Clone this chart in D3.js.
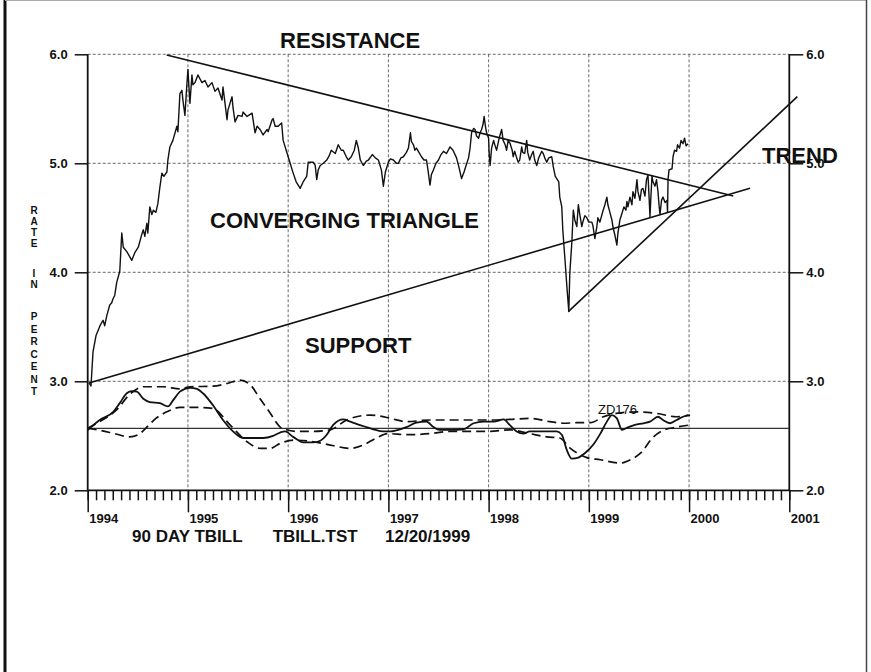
<!DOCTYPE html>
<html>
<head>
<meta charset="utf-8">
<script src="https://cdn.jsdelivr.net/npm/d3@7"></script>
<style>
  body { margin: 0; background: #fff; }
  svg { display: block; font-family: "Liberation Sans", Arial, Helvetica, sans-serif; }
</style>
</head>
<body>
<div id="chart-area"></div>
<script>
// 90 day T-bill rate, [decimal year, percent]
var tbill = [
  [1994.013,2.985],[1994.033,2.957],[1994.053,3.27],[1994.083,3.42],[1994.123,3.51],[1994.153,3.56],
  [1994.17,3.51],[1994.19,3.60],[1994.22,3.70],[1994.24,3.72],[1994.25,3.75],[1994.27,3.79],
  [1994.29,3.91],[1994.32,4.01],[1994.34,4.36],[1994.355,4.23],[1994.39,4.19],[1994.44,4.11],
  [1994.47,4.18],[1994.505,4.23],[1994.54,4.35],[1994.555,4.39],[1994.57,4.33],[1994.59,4.45],
  [1994.60,4.36],[1994.62,4.60],[1994.64,4.53],[1994.655,4.57],[1994.68,4.55],[1994.70,4.63],
  [1994.72,4.78],[1994.74,4.91],[1994.76,4.88],[1994.79,4.92],[1994.80,5.03],[1994.82,5.15],
  [1994.85,5.21],[1994.89,5.34],[1994.90,5.29],[1994.92,5.64],[1994.94,5.67],[1994.95,5.58],
  [1994.97,5.44],[1994.99,5.73],[1995.00,5.86],[1995.02,5.55],[1995.04,5.81],[1995.05,5.72],
  [1995.07,5.74],[1995.10,5.81],[1995.14,5.74],[1995.17,5.76],[1995.20,5.70],[1995.24,5.74],
  [1995.27,5.66],[1995.30,5.69],[1995.34,5.58],[1995.35,5.70],[1995.39,5.40],[1995.40,5.49],
  [1995.44,5.61],[1995.45,5.51],[1995.47,5.38],[1995.50,5.44],[1995.54,5.43],[1995.55,5.47],
  [1995.59,5.43],[1995.64,5.46],[1995.67,5.28],[1995.69,5.34],[1995.72,5.31],[1995.75,5.26],
  [1995.79,5.31],[1995.80,5.29],[1995.84,5.40],[1995.85,5.41],[1995.87,5.34],[1995.90,5.34],
  [1995.935,5.37],[1995.95,5.21],[1996.00,5.06],[1996.02,5.00],[1996.05,4.91],[1996.08,4.83],
  [1996.12,4.77],[1996.15,4.83],[1996.17,4.86],[1996.185,4.88],[1996.20,5.01],[1996.22,5.01],
  [1996.25,5.01],[1996.27,4.98],[1996.285,4.85],[1996.30,4.94],[1996.32,4.98],[1996.35,5.00],
  [1996.385,5.03],[1996.41,5.07],[1996.43,5.12],[1996.47,5.09],[1996.50,5.17],[1996.53,5.12],
  [1996.55,5.12],[1996.58,5.06],[1996.60,5.03],[1996.63,5.06],[1996.66,5.12],[1996.68,5.21],
  [1996.70,5.14],[1996.72,5.03],[1996.75,4.98],[1996.78,5.02],[1996.80,5.03],[1996.84,5.08],
  [1996.87,5.05],[1996.90,5.03],[1996.93,4.94],[1996.95,4.79],[1996.97,4.92],[1997.00,5.01],
  [1997.02,5.04],[1997.05,5.03],[1997.08,5.00],[1997.10,5.00],[1997.125,5.05],[1997.15,5.06],
  [1997.18,5.10],[1997.20,5.14],[1997.22,5.28],[1997.23,5.20],[1997.25,5.17],[1997.265,5.12],
  [1997.28,5.14],[1997.305,5.10],[1997.33,5.06],[1997.355,5.03],[1997.38,5.03],[1997.395,4.94],
  [1997.415,4.80],[1997.43,4.90],[1997.45,4.94],[1997.475,5.00],[1997.50,5.03],[1997.525,5.08],
  [1997.55,5.11],[1997.58,5.09],[1997.615,5.15],[1997.645,5.12],[1997.68,5.05],[1997.705,4.96],
  [1997.73,4.86],[1997.755,4.92],[1997.775,4.98],[1997.80,5.05],[1997.815,5.14],[1997.83,5.28],
  [1997.85,5.32],[1997.865,5.31],[1997.88,5.25],[1997.90,5.23],[1997.915,5.28],[1997.93,5.31],
  [1997.945,5.36],[1997.955,5.43],[1997.97,5.33],[1997.98,5.28],[1998.00,5.23],[1998.005,5.10],
  [1998.015,4.98],[1998.03,5.14],[1998.05,5.21],[1998.065,5.16],[1998.08,5.12],[1998.105,5.23],
  [1998.13,5.31],[1998.145,5.21],[1998.165,5.17],[1998.18,5.12],[1998.195,5.21],[1998.215,5.18],
  [1998.235,5.12],[1998.245,5.06],[1998.26,5.11],[1998.28,5.05],[1998.295,5.01],[1998.31,5.03],
  [1998.33,5.15],[1998.34,5.10],[1998.36,5.09],[1998.38,5.21],[1998.39,5.10],[1998.41,5.03],
  [1998.43,5.08],[1998.445,5.11],[1998.46,5.03],[1998.48,4.98],[1998.50,5.05],[1998.53,5.11],
  [1998.545,5.09],[1998.56,5.05],[1998.58,5.01],[1998.60,5.05],[1998.63,5.06],[1998.645,4.97],
  [1998.665,4.88],[1998.70,4.83],[1998.71,4.69],[1998.73,4.60],[1998.74,4.39],[1998.76,4.14],
  [1998.78,3.88],[1998.80,3.64],[1998.81,3.99],[1998.83,4.27],[1998.845,4.57],[1998.86,4.48],
  [1998.88,4.42],[1998.895,4.62],[1998.91,4.53],[1998.93,4.42],[1998.94,4.46],[1998.96,4.52],
  [1998.98,4.50],[1999.00,4.46],[1999.03,4.46],[1999.04,4.43],[1999.06,4.31],[1999.08,4.42],
  [1999.09,4.50],[1999.11,4.46],[1999.14,4.56],[1999.16,4.62],[1999.18,4.69],[1999.19,4.62],
  [1999.21,4.55],[1999.23,4.48],[1999.24,4.42],[1999.26,4.34],[1999.28,4.25],[1999.29,4.36],
  [1999.31,4.48],[1999.33,4.54],[1999.35,4.60],[1999.37,4.57],[1999.38,4.65],[1999.39,4.60],
  [1999.41,4.69],[1999.43,4.62],[1999.44,4.74],[1999.46,4.68],[1999.48,4.85],[1999.49,4.74],
  [1999.51,4.66],[1999.525,4.76],[1999.54,4.77],[1999.56,4.70],[1999.575,4.85],[1999.59,4.89],
  [1999.60,4.71],[1999.61,4.51],[1999.62,4.71],[1999.63,4.88],[1999.64,4.83],[1999.66,4.79],
  [1999.675,4.85],[1999.69,4.74],[1999.70,4.62],[1999.71,4.53],[1999.725,4.66],[1999.74,4.69],
  [1999.76,4.64],[1999.78,4.66],[1999.785,4.55],[1999.79,4.85],[1999.80,4.94],[1999.83,4.95],
  [1999.84,5.06],[1999.855,5.12],[1999.875,5.11],[1999.885,5.17],[1999.905,5.14],[1999.92,5.21],
  [1999.94,5.18],[1999.955,5.23],[1999.97,5.16],[1999.99,5.18]
];

// lower panel: solid oscillator and two dashed envelopes
var oscSolid = [
  [1994.0,2.553],[1994.12,2.645],[1994.255,2.72],[1994.32,2.80],[1994.39,2.89],[1994.44,2.91],
  [1994.49,2.905],[1994.555,2.84],[1994.62,2.81],[1994.72,2.80],[1994.80,2.77],[1994.855,2.83],
  [1994.92,2.905],[1995.02,2.94],[1995.09,2.93],[1995.15,2.89],[1995.25,2.78],[1995.35,2.645],
  [1995.45,2.54],[1995.55,2.48],[1995.75,2.48],[1995.85,2.50],[1995.92,2.53],[1995.97,2.54],
  [1996.05,2.49],[1996.15,2.44],[1996.25,2.44],[1996.32,2.455],[1996.385,2.51],[1996.45,2.60],
  [1996.55,2.65],[1996.62,2.63],[1996.68,2.61],[1996.78,2.58],[1996.85,2.56],[1996.95,2.54],
  [1997.02,2.54],[1997.08,2.55],[1997.18,2.58],[1997.28,2.62],[1997.38,2.63],[1997.45,2.58],
  [1997.51,2.555],[1997.615,2.555],[1997.75,2.56],[1997.85,2.615],[1997.95,2.63],[1998.05,2.63],
  [1998.15,2.65],[1998.21,2.60],[1998.28,2.54],[1998.35,2.52],[1998.41,2.54],[1998.51,2.54],
  [1998.61,2.54],[1998.68,2.54],[1998.73,2.51],[1998.78,2.37],[1998.83,2.29],[1998.895,2.30],
  [1998.96,2.34],[1999.045,2.42],[1999.115,2.52],[1999.18,2.63],[1999.23,2.69],[1999.28,2.66],
  [1999.33,2.555],[1999.395,2.58],[1999.46,2.60],[1999.545,2.615],[1999.61,2.63],[1999.69,2.675],
  [1999.74,2.645],[1999.81,2.615],[1999.875,2.645],[1999.94,2.675],[1999.99,2.69]
];
var oscUpper = [
  [1994.0,2.57],[1994.12,2.63],[1994.29,2.74],[1994.42,2.88],[1994.555,2.95],[1994.755,2.95],
  [1994.92,2.93],[1995.02,2.95],[1995.25,2.955],[1995.39,2.98],[1995.52,3.01],[1995.62,2.97],
  [1995.72,2.84],[1995.82,2.71],[1995.92,2.58],[1995.985,2.555],[1996.085,2.54],[1996.25,2.54],
  [1996.42,2.555],[1996.585,2.645],[1996.68,2.675],[1996.82,2.69],[1996.92,2.68],[1997.02,2.66],
  [1997.18,2.63],[1997.415,2.645],[1997.75,2.645],[1998.01,2.645],[1998.21,2.65],[1998.41,2.66],
  [1998.61,2.63],[1998.745,2.615],[1998.88,2.62],[1999.015,2.62],[1999.145,2.675],[1999.315,2.71],
  [1999.48,2.72],[1999.68,2.705],[1999.875,2.675],[2000.01,2.69]
];
var oscLower = [
  [1994.0,2.57],[1994.12,2.55],[1994.27,2.52],[1994.42,2.49],[1994.52,2.52],[1994.59,2.58],
  [1994.68,2.66],[1994.79,2.72],[1994.92,2.76],[1995.12,2.76],[1995.25,2.75],[1995.42,2.60],
  [1995.59,2.445],[1995.72,2.385],[1995.82,2.385],[1995.92,2.43],[1996.05,2.46],[1996.22,2.45],
  [1996.42,2.415],[1996.62,2.385],[1996.75,2.415],[1996.88,2.48],[1997.00,2.52],[1997.18,2.51],
  [1997.415,2.52],[1997.615,2.54],[1997.81,2.54],[1998.01,2.54],[1998.21,2.555],[1998.41,2.52],
  [1998.58,2.49],[1998.71,2.48],[1998.81,2.39],[1998.98,2.30],[1999.115,2.28],[1999.315,2.25],
  [1999.415,2.28],[1999.515,2.34],[1999.645,2.49],[1999.74,2.55],[1999.88,2.58],[2000.01,2.60]
];
var zeroLevel = 2.569;

// hand drawn triangle / trend lines, [start, end]
var resistance = [[1994.788,5.994],[2000.441,4.70]];
var support = [[1994.013,2.984],[2000.608,4.771]];
var trend = [[1998.795,3.639],[2001.08,5.611]];

var yTicks = [2, 3, 4, 5, 6];
var yearTicks = [1994, 1995, 1996, 1997, 1998, 1999, 2000, 2001];

var width = 871, height = 672;
var font = '"Liberation Sans", Arial, Helvetica, sans-serif';

var svg = d3.select("#chart-area")
    .append("svg")
    .attr("width", width)
    .attr("height", height);

// page frame
svg.append("line").attr("x1", 5).attr("x2", 5).attr("y1", 0).attr("y2", height)
    .attr("stroke", "#111").attr("stroke-width", 3);
svg.append("line").attr("x1", 5).attr("x2", 867).attr("y1", 0.5).attr("y2", 0.5)
    .attr("stroke", "#aaa").attr("stroke-width", 1);
svg.append("line").attr("x1", 866.5).attr("x2", 866.5).attr("y1", 0).attr("y2", height)
    .attr("stroke", "#444").attr("stroke-width", 1.5);

var x = d3.scaleLinear().domain([1994, 2001]).range([87.7, 789.3]);
var y = d3.scaleLinear().domain([2, 6]).range([490.3, 54.3]);

// grid
var grid = svg.append("g")
    .attr("stroke", "#444")
    .attr("stroke-width", 0.8)
    .attr("stroke-dasharray", "3,2");

grid.selectAll(".hgrid")
    .data(yTicks.filter(function(d) { return d > 2; }))
    .enter().append("line")
    .attr("x1", x(1994)).attr("x2", x(2001))
    .attr("y1", function(d) { return y(d); })
    .attr("y2", function(d) { return y(d); });

grid.selectAll(".vgrid")
    .data(yearTicks.filter(function(d) { return d > 1994 && d < 2001; }))
    .enter().append("line")
    .attr("x1", function(d) { return x(d); })
    .attr("x2", function(d) { return x(d); })
    .attr("y1", y(6)).attr("y2", y(2));

// axes
var yLeft = svg.append("g")
    .attr("transform", "translate(" + x(1994) + ",0)")
    .call(d3.axisLeft(y).tickValues(yTicks).tickFormat(d3.format(".1f")).tickSize(13).tickPadding(7));
var yRight = svg.append("g")
    .attr("transform", "translate(" + x(2001) + ",0)")
    .call(d3.axisRight(y).tickValues(yTicks).tickFormat(d3.format(".1f")).tickSize(14).tickPadding(3));

var months = d3.range(0, 85).map(function(i) { return 1994 + i / 12; });
var xMinor = svg.append("g")
    .attr("transform", "translate(0," + y(2) + ")")
    .call(d3.axisBottom(x).tickValues(months).tickSize(10).tickFormat(""));
var xMajor = svg.append("g")
    .attr("transform", "translate(0," + y(2) + ")")
    .call(d3.axisBottom(x).tickValues(yearTicks).tickSize(22).tickFormat(d3.format("d")));

[yLeft, yRight, xMinor, xMajor].forEach(function(a) {
    a.select(".domain").remove();
    a.selectAll("line").attr("stroke", "#111").attr("stroke-width", 1.5);
    a.selectAll("text")
        .attr("fill", "#111")
        .style("font-family", font)
        .style("font-weight", "bold")
        .style("font-size", "13px");
});

xMajor.selectAll("text")
    .attr("text-anchor", "start")
    .attr("x", 1)
    .attr("y", 32.4)
    .attr("dy", 0);

// axis frame lines
svg.append("line")
    .attr("x1", x(1994)).attr("x2", x(2001))
    .attr("y1", y(2)).attr("y2", y(2))
    .attr("stroke", "#111").attr("stroke-width", 1.8);
[1994, 2001].forEach(function(t) {
    svg.append("line")
        .attr("x1", x(t)).attr("x2", x(t))
        .attr("y1", y(6)).attr("y2", y(2))
        .attr("stroke", "#111").attr("stroke-width", 1.8);
});

// zero line of oscillator
svg.append("line")
    .attr("x1", x(1994)).attr("x2", x(2001))
    .attr("y1", y(zeroLevel)).attr("y2", y(zeroLevel))
    .attr("stroke", "#333").attr("stroke-width", 1.3);

var line = d3.line()
    .x(function(d) { return x(d[0]); })
    .y(function(d) { return y(d[1]); });
var smooth = d3.line()
    .curve(d3.curveMonotoneX)
    .x(function(d) { return x(d[0]); })
    .y(function(d) { return y(d[1]); });

svg.append("path").datum(oscUpper)
    .attr("d", smooth).attr("fill", "none")
    .attr("stroke", "#111").attr("stroke-width", 1.7).attr("stroke-dasharray", "9,5");
svg.append("path").datum(oscLower)
    .attr("d", smooth).attr("fill", "none")
    .attr("stroke", "#111").attr("stroke-width", 1.7).attr("stroke-dasharray", "9,5");
svg.append("path").datum(oscSolid)
    .attr("d", smooth).attr("fill", "none")
    .attr("stroke", "#111").attr("stroke-width", 1.8);

// main rate line
svg.append("path").datum(tbill)
    .attr("d", line).attr("fill", "none")
    .attr("stroke", "#111").attr("stroke-width", 1.4)
    .attr("stroke-linejoin", "round");

// triangle and trend lines
[resistance, support, trend].forEach(function(seg) {
    svg.append("path").datum(seg)
        .attr("d", line).attr("fill", "none")
        .attr("stroke", "#111").attr("stroke-width", 1.6);
});

// annotations
function label(txt, px, py, size, weight) {
    svg.append("text")
        .attr("x", px).attr("y", py)
        .style("font-family", font)
        .style("font-size", size + "px")
        .style("font-weight", weight)
        .attr("fill", "#111")
        .text(txt);
}
label("RESISTANCE", 280, 48, 22, "bold");
label("CONVERGING TRIANGLE", 210, 228, 22, "bold");
label("SUPPORT", 305, 353, 22, "bold");
label("TREND", 762, 163, 22, "bold");
label("ZD176", 598, 414, 13, "normal");
label("90 DAY TBILL", 132, 541.7, 17, "bold");
label("TBILL.TST", 272.7, 541.7, 17, "bold");
label("12/20/1999", 385, 541.7, 17, "bold");

// vertical axis title, one letter per row
var yTitle = [
    ["R", 214], ["A", 225], ["T", 236], ["E", 247],
    ["I", 277], ["N", 288],
    ["P", 320], ["E", 332.5], ["R", 345], ["C", 357.5], ["E", 370], ["N", 382.5], ["T", 395]
];
svg.selectAll(".ytitle")
    .data(yTitle)
    .enter().append("text")
    .attr("x", 34)
    .attr("y", function(d) { return d[1]; })
    .attr("text-anchor", "middle")
    .style("font-family", font)
    .style("font-size", "10px")
    .style("font-weight", "bold")
    .attr("fill", "#111")
    .text(function(d) { return d[0]; });
</script>
</body>
</html>
